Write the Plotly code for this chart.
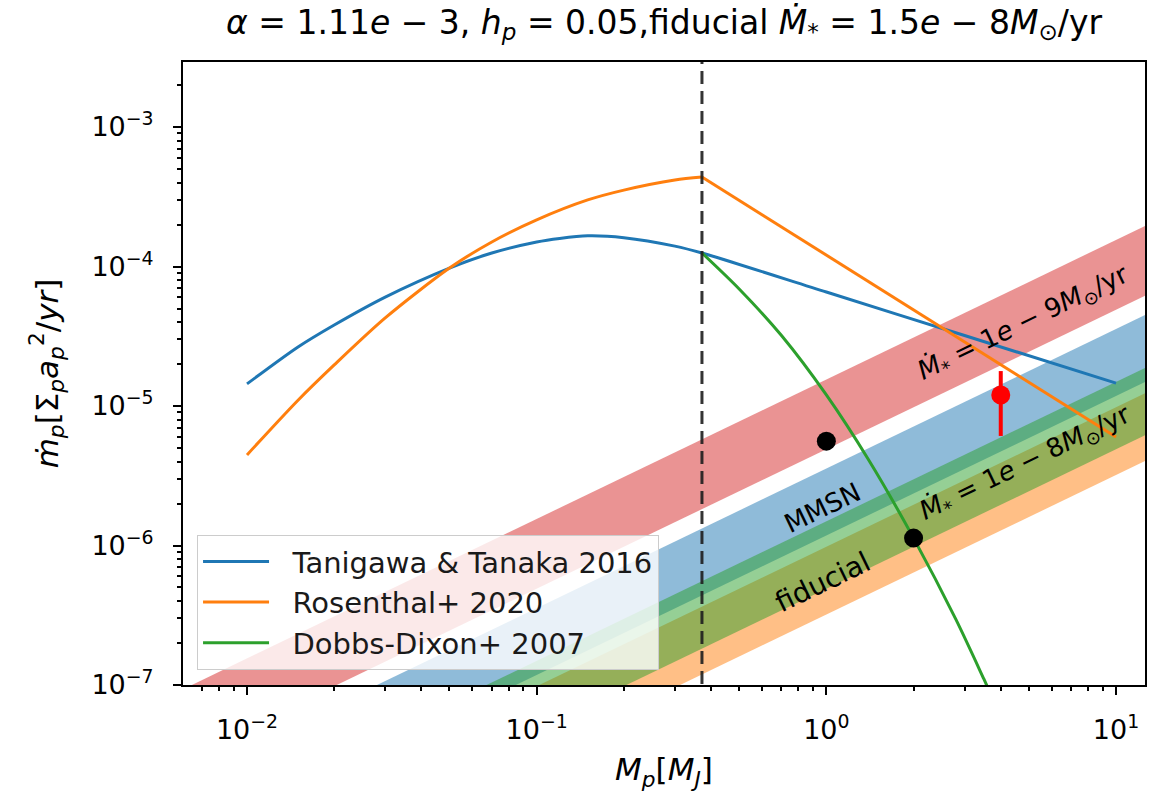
import plotly.graph_objects as go

# ---------------- data ----------------
# Tanigawa & Tanaka 2016
tt_x = [0.01, 0.015, 0.02, 0.03, 0.05, 0.07, 0.1, 0.12, 0.15, 0.2, 0.3, 0.372, 1.0, 3.0, 10.0]
tt_y = [1.44e-5, 2.65e-5, 3.81e-5, 6.04e-5, 9.75e-5, 1.25e-4, 1.50e-4, 1.59e-4, 1.66e-4,
        1.61e-4, 1.40e-4, 1.25e-4, 6.56e-5, 3.2e-5, 1.46e-5]
# Rosenthal+ 2020 (rising part, then falling part)
ro_x_lo = [0.01, 0.015, 0.02, 0.03, 0.05, 0.07, 0.1, 0.15, 0.2, 0.3, 0.372]
ro_y_lo = [4.46e-6, 1.10e-5, 1.97e-5, 4.28e-5, 9.75e-5, 1.50e-4, 2.16e-4, 3.00e-4,
           3.53e-4, 4.17e-4, 4.38e-4]
ro_x_hi = [0.372, 1.0, 3.0, 10.0]
ro_y_hi = [4.38e-4, 1.21e-4, 2.88e-5, 6.0e-6]
# Dobbs-Dixon+ 2007
dd_x = [0.372, 0.5, 0.7, 1.0, 1.4, 2.0, 2.8, 3.5, 4.0]
dd_y = [1.25e-4, 6.9e-5, 3.2e-5, 1.2e-5, 4.1e-6, 1.13e-6, 2.95e-7, 1.1e-7, 6.0e-8]

# vertical divider
vline_x = 0.372

# bands: x ends and upper/lower edges
band_x = [0.005, 15.0]
red_up = [7.75e-8, 2.325e-4]
red_lo = [2.45e-8, 7.35e-5]
blue_up = [1.78e-8, 5.34e-5]
blue_lo = [5.9e-9, 1.77e-5]
orange_up = [4.9e-9, 1.47e-5]
orange_lo = [1.6e-9, 4.8e-6]
green_up = [7.45e-9, 2.235e-5]
green_lo = [2.45e-9, 7.35e-6]

# observed points
dots_x = [1.0, 2.0]
dots_y = [5.6e-6, 1.13e-6]
red_pt_x = [4.0]
red_pt_y = [1.2e-5]
red_err_plus = [0.58e-5]
red_err_minus = [0.59e-5]

xtick_vals = [0.01, 0.1, 1, 10]
xtick_text = ["10<sup>−2</sup>", "10<sup>−1</sup>", "10<sup>0</sup>", "10<sup>1</sup>"]
ytick_vals = [1e-7, 1e-6, 1e-5, 1e-4, 1e-3]
ytick_text = ["10<sup>−7</sup>", "10<sup>−6</sup>", "10<sup>−5</sup>", "10<sup>−4</sup>", "10<sup>−3</sup>"]

C0, C1, C2, C3 = "#1f77b4", "#ff7f0e", "#2ca02c", "#d62728"
SP = "\u00a0\u00a0"

fig = go.Figure()


def band(up, lo, color):
    fig.add_trace(go.Scatter(
        x=band_x + band_x[::-1], y=up + lo[::-1], fill="toself",
        fillcolor=color, line=dict(width=0), mode="lines",
        showlegend=False, hoverinfo="skip"))


band(red_up, red_lo, "rgba(214,39,40,0.5)")
band(blue_up, blue_lo, "rgba(31,119,180,0.5)")
band(orange_up, orange_lo, "rgba(255,127,14,0.5)")
band(green_up, green_lo, "rgba(44,160,44,0.5)")

fig.add_trace(go.Scatter(x=tt_x, y=tt_y, mode="lines", name=SP + "Tanigawa & Tanaka 2016",
                         line=dict(color=C0, width=3, shape="spline", smoothing=0.8)))
fig.add_trace(go.Scatter(x=ro_x_lo, y=ro_y_lo, mode="lines", name=SP + "Rosenthal+ 2020",
                         legendgroup="ro",
                         line=dict(color=C1, width=3, shape="spline", smoothing=0.8)))
fig.add_trace(go.Scatter(x=ro_x_hi, y=ro_y_hi, mode="lines", name="Rosenthal+ 2020",
                         legendgroup="ro", showlegend=False,
                         line=dict(color=C1, width=3)))
fig.add_trace(go.Scatter(x=dd_x, y=dd_y, mode="lines", name=SP + "Dobbs-Dixon+ 2007",
                         line=dict(color=C2, width=3, shape="spline", smoothing=0.8)))

fig.add_trace(go.Scatter(x=[vline_x, vline_x], y=[1e-9, 1], mode="lines",
                         line=dict(color="rgba(30,30,30,0.9)", width=3, dash="13px,7px"),
                         showlegend=False, hoverinfo="skip"))

fig.add_trace(go.Scatter(x=dots_x, y=dots_y, mode="markers",
                         marker=dict(color="black", size=19), showlegend=False))
fig.add_trace(go.Scatter(x=red_pt_x, y=red_pt_y, mode="markers",
                         marker=dict(color="#ff0000", size=19),
                         error_y=dict(type="data", array=red_err_plus, arrayminus=red_err_minus,
                                      color="#ff0000", thickness=4, width=0),
                         showlegend=False))

ann_font = dict(family="DejaVu Sans", size=26, color="black")
slope_angle = -25.8
fig.add_annotation(x=0.679, y=-4.405, xref="x", yref="y", showarrow=False,
                   text="<i>Ṁ</i><sub>*</sub> = 1<i>e</i> − 9<i>M</i><sub>⊙</sub>/yr",
                   textangle=slope_angle, font=ann_font)
fig.add_annotation(x=-0.015, y=-5.731, xref="x", yref="y", showarrow=False,
                   text="MMSN", textangle=slope_angle, font=ann_font)
fig.add_annotation(x=0.686, y=-5.409, xref="x", yref="y", showarrow=False,
                   text="<i>Ṁ</i><sub>*</sub> = 1<i>e</i> − 8<i>M</i><sub>⊙</sub>/yr",
                   textangle=slope_angle, font=ann_font)
fig.add_annotation(x=-0.015, y=-6.262, xref="x", yref="y", showarrow=False,
                   text="fiducial", textangle=slope_angle,
                   font=dict(family="DejaVu Sans", size=28, color="black"))

minor_x = [k * 10.0 ** d for d in range(-3, 2) for k in range(2, 10)]
minor_y = [k * 10.0 ** d for d in range(-8, -2) for k in range(2, 10)]

axis_common = dict(showline=True, linecolor="black", linewidth=2, mirror=True,
                   ticks="outside", ticklen=8, tickwidth=2, tickcolor="black",
                   showgrid=False, zeroline=False,
                   tickfont=dict(family="DejaVu Sans", size=27, color="black"))

fig.update_layout(
    width=1162, height=800,
    margin=dict(l=183, r=17, t=62, b=115),
    plot_bgcolor="white", paper_bgcolor="white",
    title=dict(text="<i>α</i> = 1.11<i>e</i> − 3, <i>h</i><sub><i>p</i></sub> = 0.05,fiducial "
                    "<i>Ṁ</i><sub>*</sub> = 1.5<i>e</i> − 8<i>M</i><sub>⊙</sub>/yr",
               x=0.5, xref="paper", xanchor="center",
               y=1 - 22 / 800, yref="container", yanchor="middle",
               font=dict(family="DejaVu Sans", size=33, color="black")),
    xaxis=dict(type="log", range=[-2.221, 1.100], tickmode="array",
               tickvals=xtick_vals, ticktext=xtick_text, ticklabelstandoff=12,
               title=dict(text="<i>M</i><sub><i>p</i></sub>[<i>M</i><sub><i>J</i></sub>]",
                          font=dict(family="DejaVu Sans", size=31, color="black"), standoff=14),
               minor=dict(tickmode="array", tickvals=minor_x, ticks="outside", ticklen=4,
                          tickwidth=1.5, tickcolor="black", showgrid=False),
               **axis_common),
    yaxis=dict(type="log", range=[-7, -2.534], tickmode="array",
               tickvals=ytick_vals, ticktext=ytick_text, ticklabelstandoff=14,
               title=dict(text="<i>ṁ</i><sub><i>p</i></sub>[Σ<sub><i>p</i></sub><i>a</i>"
                               "<sub><i>p</i></sub><sup>2</sup>/<i>yr</i>]",
                          font=dict(family="DejaVu Sans", size=31, color="black"), standoff=24),
               minor=dict(tickmode="array", tickvals=minor_y, ticks="outside", ticklen=4,
                          tickwidth=1.5, tickcolor="black", showgrid=False),
               **axis_common),
    legend=dict(x=0.0146, y=0.024, xanchor="left", yanchor="bottom",
                bgcolor="rgba(255,255,255,0.8)", bordercolor="#cccccc", borderwidth=1,
                font=dict(family="DejaVu Sans", size=29, color="#1a1a1a"),
                tracegroupgap=0, itemwidth=66),
    showlegend=True,
)

fig.write_html("out.html")
